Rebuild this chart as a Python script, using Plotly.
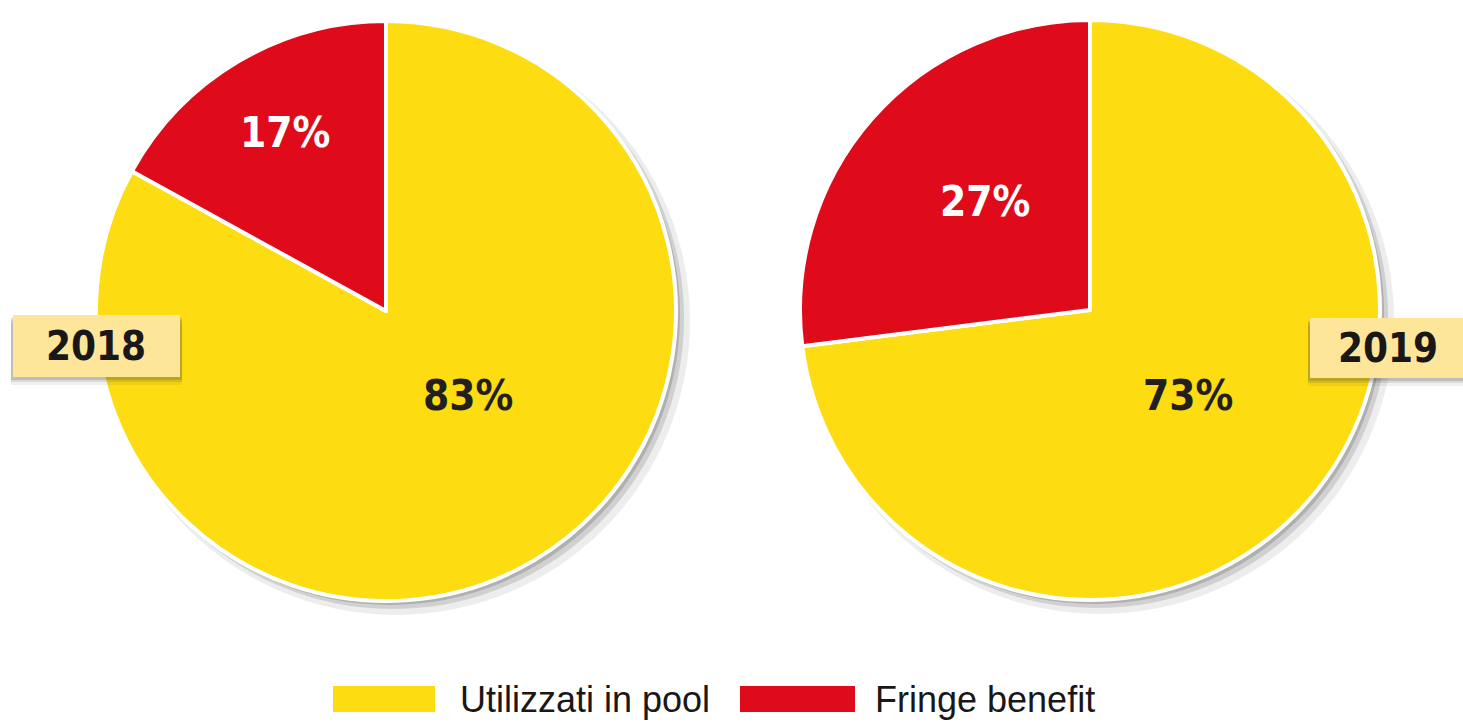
import plotly.graph_objects as go

# data
labels = ["Utilizzati in pool", "Fringe benefit"]
years = ["2018", "2019"]
values_2018 = [83, 17]
values_2019 = [73, 27]
colors = ["#FDDC12", "#E00B1A"]
text_colors = ["#231F20", "#FFFFFF"]

W, H = 1463, 722
BOLD = "DejaVu Sans Condensed, DejaVu Sans, sans-serif"

def dom(cx, cy, r, dx=0, dy=0):
    # pixel centre/radius -> paper domain
    return dict(x=[(cx - r + dx) / W, (cx + r + dx) / W],
                y=[1 - (cy + r + dy) / H, 1 - (cy - r + dy) / H])

pies = [(values_2018, 386, 311), (values_2019, 1090, 310)]
R = 290
# where the percentage labels sit (pixels), per pie: [yellow, red]
label_pos = [[(468, 395), (285, 132)], [(1188, 395), (985, 201)]]

fig = go.Figure()

# soft drop shadows behind each pie
for vals, cx, cy in pies:
    for off, rr, op in [(10, R + 4, 0.10), (7, R + 1, 0.18), (4, R, 0.25)]:
        fig.add_trace(go.Pie(values=[1], labels=["s"], domain=dom(cx, cy, rr, off, off),
                             marker=dict(colors=["#505050"], line=dict(width=0)),
                             opacity=op, textinfo="none", hoverinfo="skip",
                             showlegend=False, sort=False))

annotations = []
for (vals, cx, cy), pos in zip(pies, label_pos):
    fig.add_trace(go.Pie(
        values=vals, labels=labels, domain=dom(cx, cy, R),
        sort=False, direction="clockwise", rotation=0,
        marker=dict(colors=colors, line=dict(color="white", width=4)),
        textinfo="none", showlegend=False, hoverinfo="label+value"))
    for v, (px, py), tc in zip(vals, pos, text_colors):
        annotations.append(dict(text=f"<b>{v}%</b>", x=px / W, y=1 - py / H,
                                xref="paper", yref="paper", showarrow=False,
                                xanchor="center", yanchor="middle",
                                font=dict(family=BOLD, size=42, color=tc)))

shapes = []

# year boxes
boxes = [(13, 315, 180, 377), (1310, 318, 1480, 378)]
text_x = [96, 1388]
for (x0, y0, x1, y1), yr, tx in zip(boxes, years, text_x):
    for k, op in [(8, 0.08), (5, 0.12), (3, 0.18)]:
        shapes.append(dict(type="rect", xref="paper", yref="paper", layer="above",
                           x0=(x0 - 2) / W, x1=(x1 + 2) / W,
                           y0=1 - (y1 + k) / H, y1=1 - (y0 + k) / H,
                           fillcolor=f"rgba(60,60,60,{op})", line=dict(width=0)))
    shapes.append(dict(type="rect", xref="paper", yref="paper", layer="above",
                       x0=x0 / W, x1=x1 / W, y0=1 - y1 / H, y1=1 - y0 / H,
                       fillcolor="#FDE69A", line=dict(width=0)))
    annotations.append(dict(text=f"<b>{yr}</b>", x=tx / W, y=1 - (y0 + y1) / 2 / H,
                            xref="paper", yref="paper", showarrow=False,
                            xanchor="center", yanchor="middle",
                            font=dict(family=BOLD, size=40, color="#1A1718")))

# legend drawn by hand
legend_items = [(333, 435, 458), (740, 855, 873)]
for (sx0, sx1, tx), lab, col in zip(legend_items, labels, colors):
    shapes.append(dict(type="rect", xref="paper", yref="paper",
                       x0=sx0 / W, x1=sx1 / W, y0=1 - 712 / H, y1=1 - 686 / H,
                       fillcolor=col, line=dict(width=0)))
    annotations.append(dict(text=lab, x=tx / W, y=1 - 699 / H, xref="paper", yref="paper",
                            xanchor="left", yanchor="middle", showarrow=False,
                            font=dict(family="Liberation Sans, Arial, sans-serif",
                                      size=36, color="#1A1718")))

fig.update_layout(width=W, height=H, margin=dict(l=0, r=0, t=0, b=0),
                  paper_bgcolor="white", plot_bgcolor="white",
                  shapes=shapes, annotations=annotations, showlegend=False)

fig.write_html("out.html", config={"displayModeBar": False},
               post_script="document.body.style.margin='0px';")
